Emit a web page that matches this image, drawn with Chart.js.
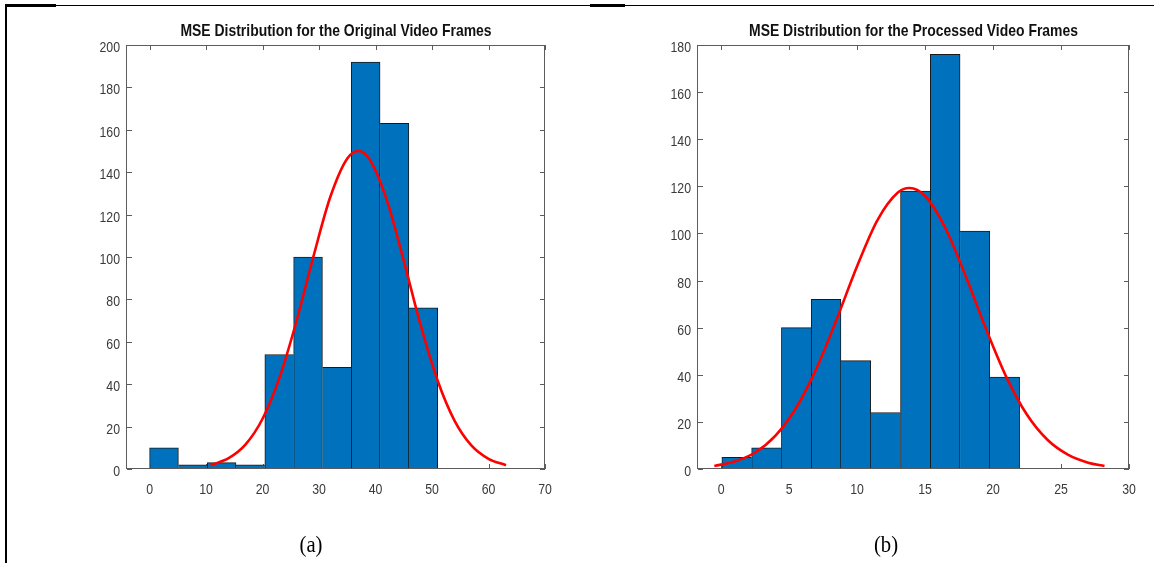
<!DOCTYPE html>
<html><head><meta charset="utf-8">
<script src="https://cdn.jsdelivr.net/npm/chart.js@4.4.1/dist/chart.umd.min.js"></script>
<style>
html,body{margin:0;padding:0;background:#fff;width:1154px;height:563px;overflow:hidden;position:relative}
canvas{position:absolute;top:0}
#ca{left:0}
#cb{left:577px}
.ln{position:absolute;background:#000}
.cap{position:absolute;font-family:'Liberation Serif','Times New Roman',serif;font-size:23px;color:#000;top:532px;transform:translateX(-50%) scaleX(0.9)}
</style></head><body>
<div class="ln" style="left:5px;top:5px;width:2px;height:558px"></div>
<div class="ln" style="left:5px;top:4px;width:51px;height:3px"></div>
<div class="ln" style="left:56px;top:5px;width:1098px;height:1px"></div>
<div class="ln" style="left:590px;top:4px;width:35px;height:3px"></div>
<canvas id="ca" width="577" height="563"></canvas>
<canvas id="cb" width="577" height="563"></canvas>
<div class="cap" style="left:311px">(a)</div>
<div class="cap" style="left:886px">(b)</div>
<script>
// ---- Data: (a) Original video frames ----
const titleA = 'MSE Distribution for the Original Video Frames';
const binCentersA = [2.55, 7.65, 12.75, 17.85, 22.95, 28.05, 33.15, 38.25, 43.35, 48.45];
const countsA = [10, 2, 3, 2, 54, 100, 48, 192, 163, 76];
const fitXA = [10.8, 14, 17, 20, 23, 26, 29, 32, 35, 37, 39, 42, 45, 48, 51, 54, 57, 60, 63.1];
const fitYA = [1.8, 5.1, 11.6, 23.7, 43.1, 69.7, 100.2, 128.4, 146.5, 150, 145.8, 126.8, 98.2, 67.7, 41.6, 22.7, 11.0, 4.8, 1.8];
const xTicksA = [0, 10, 20, 30, 40, 50, 60, 70];
const yTicksA = [0, 20, 40, 60, 80, 100, 120, 140, 160, 180, 200];

// ---- Data: (b) Processed video frames ----
const titleB = 'MSE Distribution for the Processed Video Frames';
const binCentersB = [1.15, 3.34, 5.53, 7.72, 9.91, 12.1, 14.29, 16.48, 18.67, 20.86];
const countsB = [5, 9, 60, 72, 46, 24, 118, 176, 101, 39];
const fitXB = [-0.5, 1, 2.5, 4, 5.5, 7, 8.5, 10, 11.5, 13, 13.85, 15, 16.5, 18, 19.5, 21, 22.5, 24, 25.5, 27, 28.2];
const fitYB = [1.3, 3.2, 7.0, 14.2, 25.8, 42.5, 63.6, 86.1, 105.7, 117.4, 119.3, 115.9, 102.2, 81.7, 59.2, 38.8, 23.0, 12.4, 6.1, 2.7, 1.3];
const xTicksB = [0, 5, 10, 15, 20, 25, 30];
const yTicksB = [0, 20, 40, 60, 80, 100, 120, 140, 160, 180];

const FONT = "'Liberation Sans',Arial,sans-serif";
const SQUEEZE = 0.82;

function squeezedText(ctx, text, x, y, align, baseline) {
  ctx.save();
  ctx.translate(x, y);
  ctx.scale(SQUEEZE, 1);
  ctx.textAlign = align;
  ctx.textBaseline = baseline;
  ctx.fillText(text, 0, 0);
  ctx.restore();
}

const matlabAxes = {
  id: 'matlabAxes',
  beforeDatasetsDraw(chart) {
    const {ctx, chartArea: a, scales: {x, y}} = chart;
    const len = 5;
    ctx.save();
    ctx.strokeStyle = '#5c5c5c';
    ctx.lineWidth = 1;
    ctx.beginPath();
    x.ticks.forEach(t => {
      const px = Math.round(x.getPixelForValue(t.value)) + 0.5;
      ctx.moveTo(px, a.bottom); ctx.lineTo(px, a.bottom - len);
      ctx.moveTo(px, a.top); ctx.lineTo(px, a.top + len);
    });
    y.ticks.forEach(t => {
      const py = Math.round(y.getPixelForValue(t.value)) + 0.5;
      ctx.moveTo(a.left, py); ctx.lineTo(a.left + len, py);
      ctx.moveTo(a.right, py); ctx.lineTo(a.right - len, py);
    });
    ctx.stroke();
    ctx.restore();
  },
  afterDraw(chart, args, opts) {
    const {ctx, chartArea: a, scales: {x, y}} = chart;
    ctx.save();
    ctx.strokeStyle = '#5c5c5c';
    ctx.lineWidth = 1;
    ctx.strokeRect(Math.round(a.left) - 0.5, Math.round(a.top) + 0.5, Math.round(a.right - a.left), Math.round(a.bottom - a.top) - 1);
    // tick labels
    ctx.fillStyle = '#3a3a3a';
    ctx.font = "15px " + FONT;
    x.ticks.forEach(t => {
      squeezedText(ctx, String(t.value), x.getPixelForValue(t.value), 493.5, 'center', 'alphabetic');
    });
    y.ticks.forEach(t => {
      squeezedText(ctx, String(t.value), a.left - 7, y.getPixelForValue(t.value) + 7, 'right', 'alphabetic');
    });
    // title
    ctx.fillStyle = '#111';
    ctx.font = "bold 17px " + FONT;
    squeezedText(ctx, opts.text, (a.left + a.right) / 2, 36, 'center', 'alphabetic');
    ctx.restore();
  }
};

function build(id, c) {
  const n = c.counts.length;
  const bw = (i) => {
    const h = c.counts[i];
    const prev = i > 0 ? c.counts[i - 1] : -1;
    const next = i < n - 1 ? c.counts[i + 1] : -1;
    return {top: 1, bottom: 0, left: (i === 0 || h > prev) ? 1 : 0, right: (i === n - 1 || h >= next) ? 1 : 0};
  };
  return new Chart(document.getElementById(id), {
    data: {
      datasets: [
        {
          type: 'line',
          data: c.fitX.map((v, i) => ({x: v, y: c.fitY[i]})),
          borderColor: '#ff0000', borderWidth: 2.6, pointRadius: 0,
          cubicInterpolationMode: 'monotone', order: 0, clip: false
        },
        {
          type: 'bar',
          data: c.centers.map((v, i) => ({x: v, y: c.counts[i]})),
          backgroundColor: '#0072BD', borderColor: '#1a1a1a',
          borderWidth: (ctx) => bw(ctx.dataIndex), borderSkipped: false,
          barPercentage: 1, categoryPercentage: 1, order: 1
        }
      ]
    },
    options: {
      responsive: false, animation: false, devicePixelRatio: 1,
      layout: {padding: {left: c.left - 40, top: 45, right: 577 - c.right, bottom: 563 - 469 - 30}},
      plugins: {legend: {display: false}, tooltip: {enabled: false}, title: {display: false}, matlabAxes: {text: c.title}},
      scales: {
        x: {
          type: 'linear', min: c.xMin, max: c.xMax, offset: false,
          grid: {display: false}, border: {display: false},
          afterBuildTicks: s => { s.ticks = c.xTicks.map(v => ({value: v})); },
          afterFit: s => { s.height = 30; },
          ticks: {display: false}
        },
        y: {
          type: 'linear', min: 0, max: c.yMax,
          grid: {display: false}, border: {display: false},
          afterBuildTicks: s => { s.ticks = c.yTicks.map(v => ({value: v})); },
          afterFit: s => { s.width = 40; },
          ticks: {display: false}
        }
      }
    },
    plugins: [matlabAxes]
  });
}

build('ca', {title: titleA, centers: binCentersA, counts: countsA, fitX: fitXA, fitY: fitYA,
  xTicks: xTicksA, yTicks: yTicksA, xMin: -4, xMax: 70, yMax: 200, left: 127, right: 545});
build('cb', {title: titleB, centers: binCentersB, counts: countsB, fitX: fitXB, fitY: fitYB,
  xTicks: xTicksB, yTicks: yTicksB, xMin: -1.7, xMax: 30, yMax: 180, left: 121, right: 552});
</script>
</body></html>
